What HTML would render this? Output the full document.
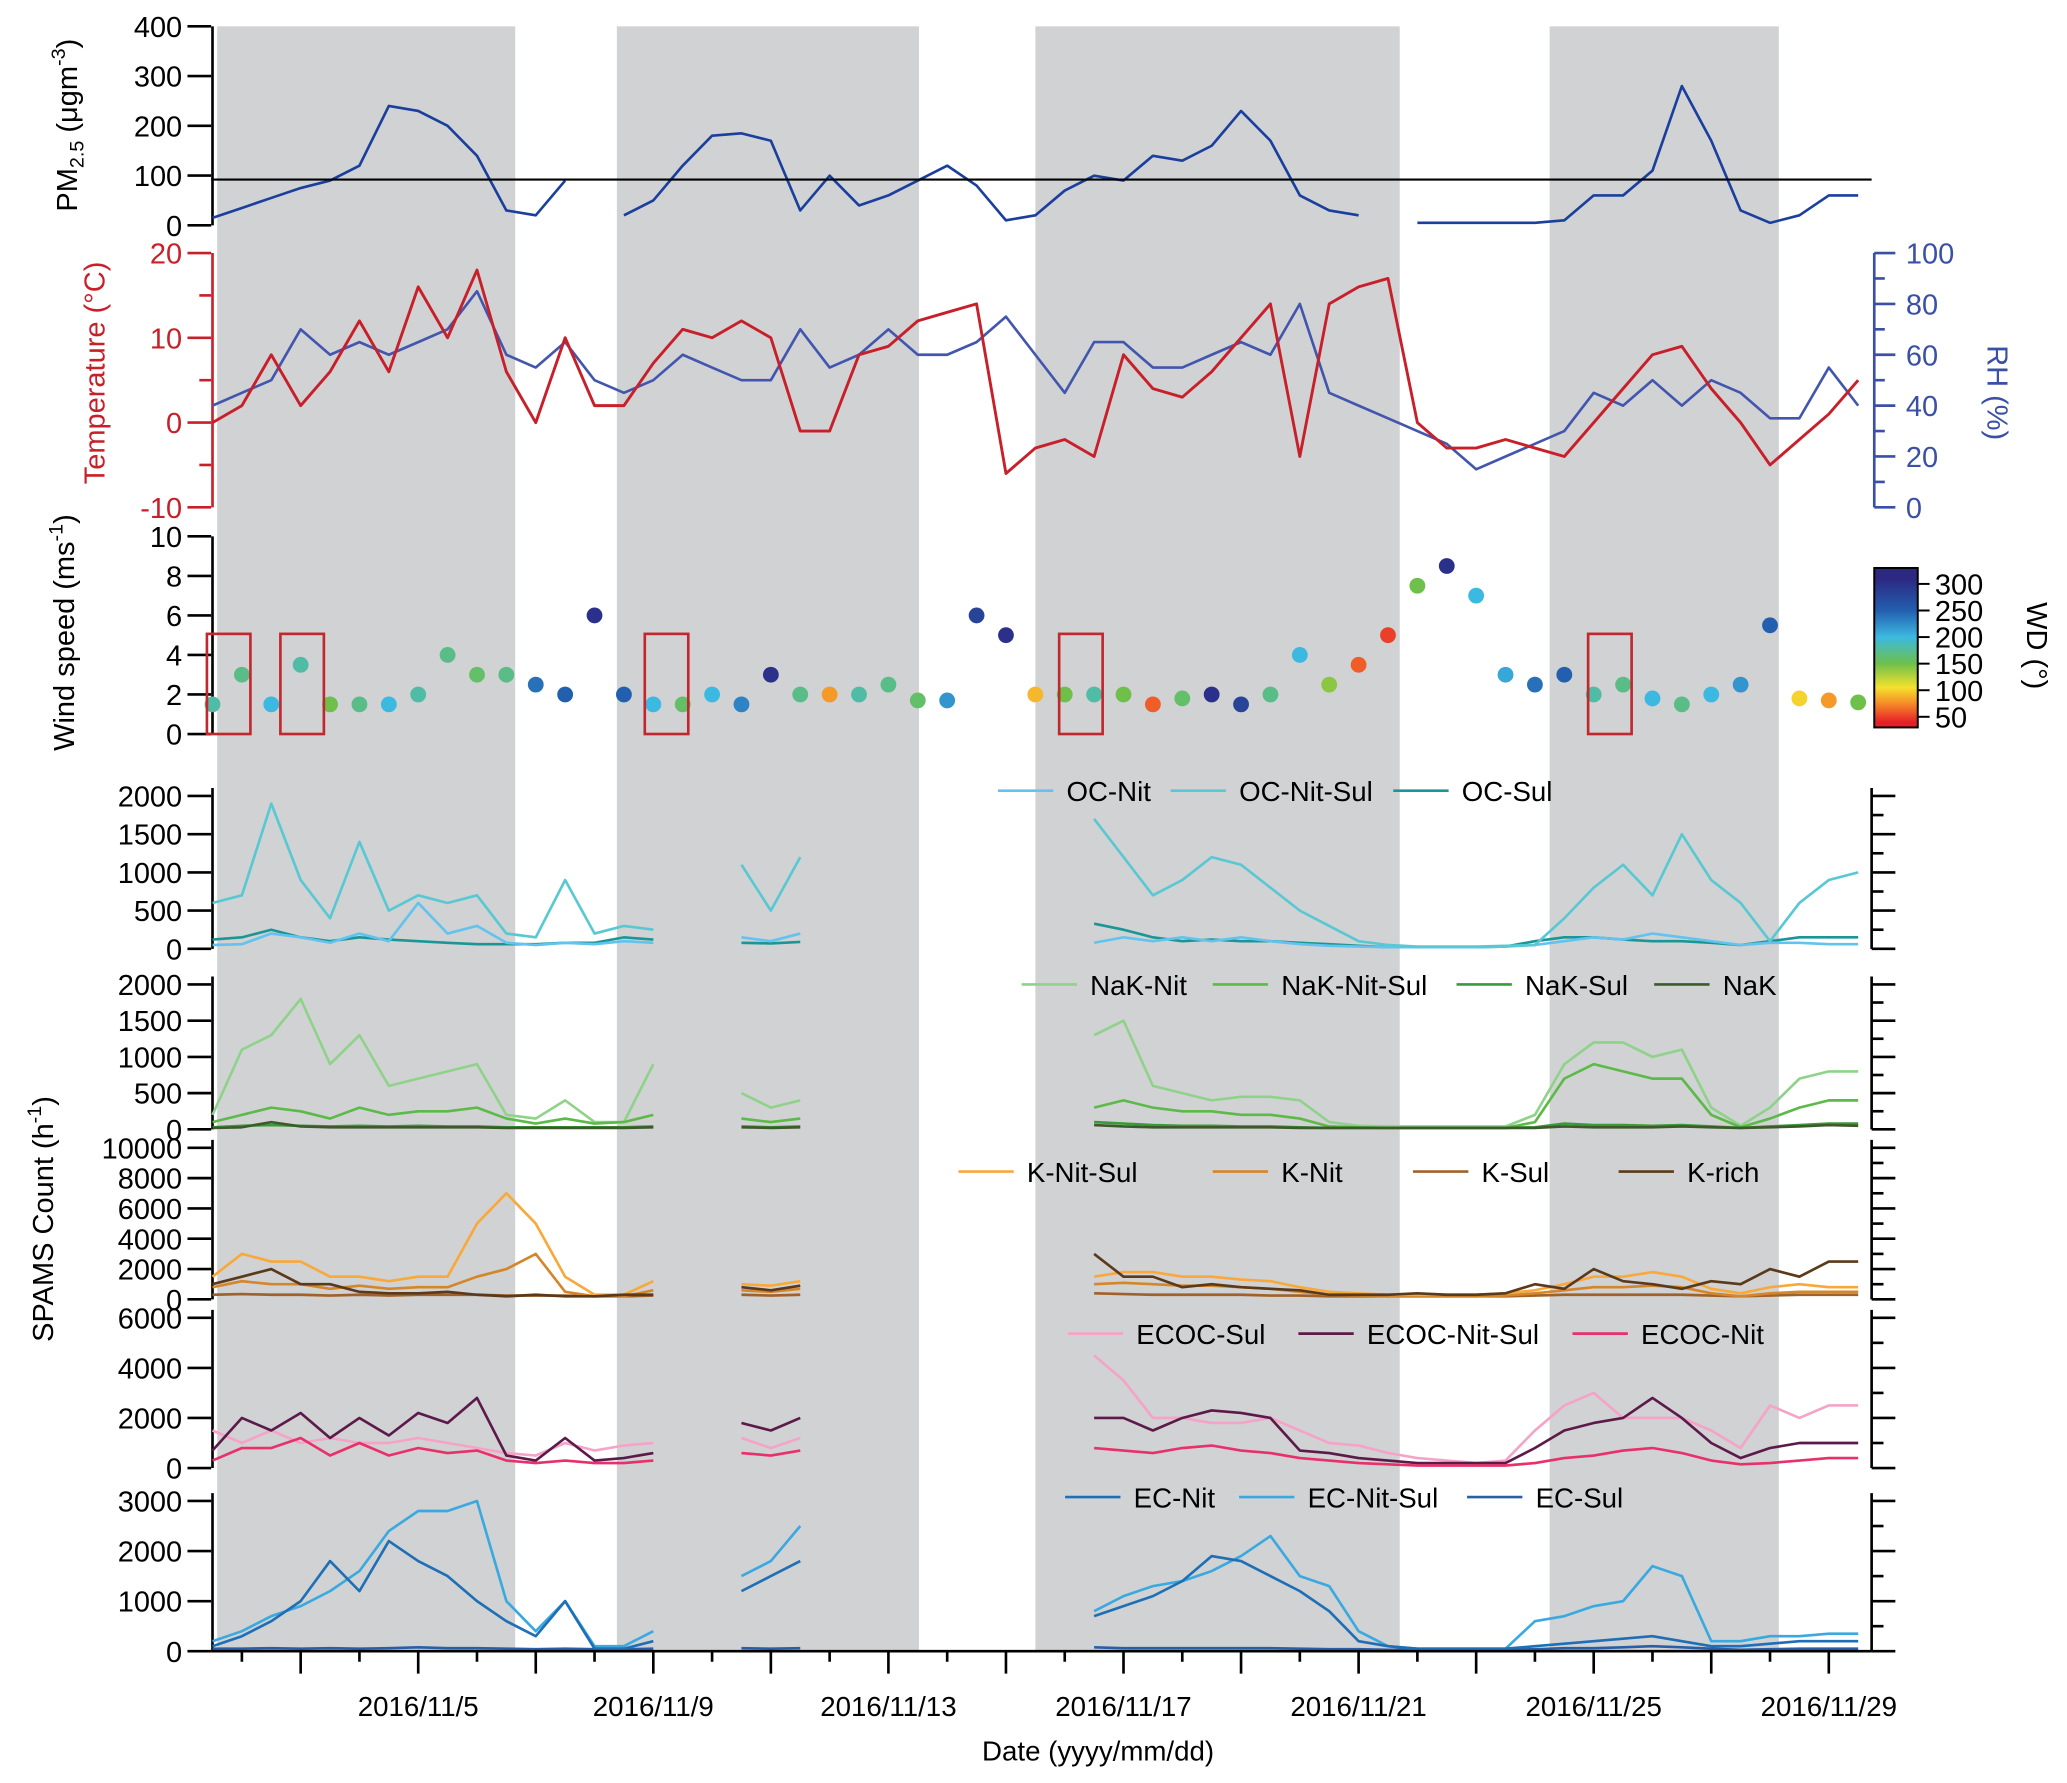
<!DOCTYPE html>
<html><head><meta charset="utf-8"><style>
html,body{margin:0;padding:0;background:#fff}
svg{display:block;font-family:"Liberation Sans",Arial,sans-serif}
</style></head><body>
<svg id="chart" xmlns="http://www.w3.org/2000/svg" width="2067" height="1783" viewBox="0 0 1568 1353">
<g id="shade"></g>
<g id="plot"></g>
</svg>
<script>
// ---------- data ----------
const shadeStarts = [1.58, 8.38, 15.5, 24.25];
const shadeEnds   = [6.65, 13.52, 21.7, 28.15];
const gridTimes = [1.5,2,2.5,3,3.5,4,4.5,5,5.5,6,6.5,7,7.5,8,8.5,9,9.5,10,10.5,11,11.5,12,12.5,13,13.5,14,14.5,15,15.5,16,16.5,17,17.5,18,18.5,19,19.5,20,20.5,21,21.5,22,22.5,23,23.5,24,24.5,25,25.5,26,26.5,27,27.5,28,28.5,29,29.5];
const pm25 = [15,35,55,75,90,120,240,230,200,140,30,20,90,null,20,50,120,180,185,170,30,100,40,60,90,120,80,10,20,70,100,90,140,130,160,230,170,60,30,20,null,5,5,5,5,5,10,60,60,110,280,170,30,5,20,60,60];
const pmThreshold = 92;
const temperature = [0,2,8,2,6,12,6,16,10,18,6,0,10,2,2,7,11,10,12,10,-1,-1,8,9,12,13,14,-6,-3,-2,-4,8,4,3,6,10,14,-4,14,16,17,0,-3,-3,-2,-3,-4,0,4,8,9,4,0,-5,-2,1,5];
const rh = [40,45,50,70,60,65,60,65,70,85,60,55,65,50,45,50,60,55,50,50,70,55,60,70,60,60,65,75,60,45,65,65,55,55,60,65,60,80,45,40,35,30,25,15,20,25,30,45,40,50,40,50,45,35,35,55,40];
const windSpeed = [1.5,3,1.5,3.5,1.5,1.5,1.5,2,4,3,3,2.5,2,6,2,1.5,1.5,2,1.5,3,2,2,2,2.5,1.7,1.7,6,5,2,2,2,2,1.5,1.8,2,1.5,2,4,2.5,3.5,5,7.5,8.5,7,3,2.5,3,2,2.5,1.8,1.5,2,2.5,5.5,1.8,1.7,1.6];
const windDir = [180,170,200,180,150,170,200,180,170,160,170,240,250,300,250,200,160,200,230,300,170,80,180,170,160,220,280,300,90,150,180,150,60,160,300,280,170,200,140,60,50,150,300,200,210,240,250,180,170,200,170,200,220,250,100,80,150];
const highlightBoxes = [1.45, 2.7, 8.9, 15.95, 24.95];

const spamsTimes = [1.5,2,2.5,3,3.5,4,4.5,5,5.5,6,6.5,7,7.5,8,8.5,9, 10.5,11,11.5, 16.5,17,17.5,18,18.5,19,19.5,20,20.5,21,21.5,22,22.5,23,23.5,24,24.5,25,25.5,26,26.5,27,27.5,28,28.5,29,29.5];
const ocNit    = [50,60,200,150,80,200,100,600,200,300,80,50,80,60,100,80, 150,100,200, 80,150,100,150,100,150,100,60,40,30,20,20,20,20,30,50,100,150,120,200,150,100,50,80,80,60,60];
const ocNitSul = [600,700,1900,900,400,1400,500,700,600,700,200,150,900,200,300,250, 1100,500,1200, 1700,1200,700,900,1200,1100,800,500,300,100,50,30,30,30,40,50,400,800,1100,700,1500,900,600,100,600,900,1000];
const ocSul    = [120,150,250,150,100,150,120,100,80,60,60,60,80,80,150,120, 80,70,90, 330,250,150,100,120,100,100,80,60,40,20,20,20,20,30,100,150,150,120,100,100,80,50,100,150,150,150];
const nakNit    = [200,1100,1300,1800,900,1300,600,700,800,900,200,150,400,100,100,900, 500,300,400, 1300,1500,600,500,400,450,450,400,100,50,40,40,40,40,40,200,900,1200,1200,1000,1100,300,50,300,700,800,800];
const nakNitSul = [100,200,300,250,150,300,200,250,250,300,150,80,150,80,100,200, 150,100,150, 300,400,300,250,250,200,200,150,40,30,20,20,20,20,20,100,700,900,800,700,700,200,30,150,300,400,400];
const nakSul    = [30,50,60,50,40,50,40,50,40,40,30,30,30,30,30,40, 40,30,40, 100,80,60,50,50,40,40,30,20,20,20,20,20,20,20,30,80,60,60,50,60,40,20,40,60,80,80];
const nak       = [20,30,100,40,30,30,30,30,30,30,20,20,20,20,20,30, 30,20,30, 60,40,30,30,30,30,30,20,20,20,20,20,20,20,20,20,40,30,30,30,40,30,20,30,40,60,50];
const kNitSul = [1500,3000,2500,2500,1500,1500,1200,1500,1500,5000,7000,5000,1500,300,300,1200, 1000,900,1200, 1500,1800,1800,1500,1500,1300,1200,800,500,400,300,300,300,300,400,600,1000,1500,1500,1800,1500,700,400,800,1000,800,800];
const kNit    = [800,1200,1000,1000,700,900,700,800,800,1500,2000,3000,500,200,200,600, 600,500,700, 1000,1100,1000,900,900,800,700,500,300,250,200,200,200,200,250,400,600,800,800,900,800,400,200,400,500,500,500];
const kSul    = [300,350,300,300,250,300,250,300,300,300,250,250,250,200,200,250, 300,250,300, 400,350,300,300,300,300,250,250,200,200,200,200,200,200,200,250,300,300,300,300,300,250,200,250,300,300,300];
const kRich   = [1000,1500,2000,1000,1000,500,400,400,500,300,200,300,200,200,300,300, 800,600,900, 3000,1500,1500,800,1000,800,700,600,300,300,300,400,300,300,400,1000,700,2000,1200,1000,700,1200,1000,2000,1500,2500,2500];
const ecocSul    = [1500,1000,1500,1000,1200,1000,1000,1200,1000,800,600,500,1000,700,900,1000, 1200,800,1200, 4500,3500,2000,2000,1800,1800,2000,1500,1000,900,600,400,300,200,300,1500,2500,3000,2000,2000,2000,1500,800,2500,2000,2500,2500];
const ecocNitSul = [700,2000,1500,2200,1200,2000,1300,2200,1800,2800,500,300,1200,300,400,600, 1800,1500,2000, 2000,2000,1500,2000,2300,2200,2000,700,600,400,300,200,200,200,200,800,1500,1800,2000,2800,2000,1000,400,800,1000,1000,1000];
const ecocNit    = [300,800,800,1200,500,1000,500,800,600,700,300,200,300,200,200,300, 600,500,700, 800,700,600,800,900,700,600,400,300,200,150,100,100,100,100,200,400,500,700,800,600,300,150,200,300,400,400];
const ecNit    = [100,300,600,1000,1800,1200,2200,1800,1500,1000,600,300,1000,50,50,200, 1200,1500,1800, 700,900,1100,1400,1900,1800,1500,1200,800,200,100,50,50,50,50,100,150,200,250,300,200,100,100,150,200,200,200];
const ecNitSul = [200,400,700,900,1200,1600,2400,2800,2800,3000,1000,400,1000,100,100,400, 1500,1800,2500, 800,1100,1300,1400,1600,1900,2300,1500,1300,400,100,50,50,50,50,600,700,900,1000,1700,1500,200,200,300,300,350,350];
const ecSul    = [50,50,60,50,60,50,60,80,60,60,50,40,50,40,40,50, 60,50,60, 80,60,60,60,60,60,60,50,40,40,30,30,30,30,30,40,60,60,80,100,80,50,30,40,50,50,50];
const dateTicks = [5,9,13,17,21,25,29];
const dateLabels = ["2016/11/5","2016/11/9","2016/11/13","2016/11/17","2016/11/21","2016/11/25","2016/11/29"];

// ---------- helpers ----------
const NS="http://www.w3.org/2000/svg";
const plot=document.getElementById('plot');
const shadeG=document.getElementById('shade');
function el(tag,attrs,parent){const e=document.createElementNS(NS,tag);for(const k in attrs)e.setAttribute(k,attrs[k]);(parent||plot).appendChild(e);return e;}
const X0=160,X1=1420;
function xT(t){return 138.7+(t-1)*44.6;}
function yS(v,vmin,vmax,ytop,ybot){return ybot-(v-vmin)/(vmax-vmin)*(ybot-ytop);}
function txt(s,x,y,size,anchor,fill,name){const e=el('text',{x:x,y:y,'font-size':size,'text-anchor':anchor||'start',fill:fill||'#000'});e.textContent=s;


return e;}
function linePath(times,vals,f,gapMax){let d='';let pen=false;let prevT=null;
for(let i=0;i<vals.length&&i<times.length;i++){const v=vals[i];
if(v===null||v===undefined){pen=false;prevT=null;continue;}
if(prevT!==null&&times[i]-prevT>gapMax)pen=false;
d+=(pen?'L':'M')+xT(times[i]).toFixed(1)+','+f(v).toFixed(1);pen=true;prevT=times[i];}
return d;}
function series(times,vals,f,color,name,w){const p=el('path',{d:linePath(times,vals,f,0.8),fill:'none',stroke:color,'stroke-width':w||2,'stroke-linejoin':'round'});


return p;}
function leftAxis(ticks,f,ytop,ybot,color,minor,name){const g=el('g',{});


el('line',{x1:X0+1,y1:ytop,x2:X0+1,y2:ybot,stroke:color,'stroke-width':2},g);
ticks.forEach(v=>{const y=f(v);el('line',{x1:X0-18,y1:y,x2:X0,y2:y,stroke:color,'stroke-width':2},g);
const t=txt(String(v),X0-22,y+8,22,'end',color,'tick-label');g.appendChild(t);});
(minor||[]).forEach(v=>{const y=f(v);el('line',{x1:X0-9,y1:y,x2:X0,y2:y,stroke:color,'stroke-width':2},g);});
return g;}
function rightAxis(ticks,f,ytop,ybot,minor){const g=el('g',{});


el('line',{x1:X1,y1:ytop,x2:X1,y2:ybot,stroke:'#000','stroke-width':2},g);
ticks.forEach(v=>{const y=f(v);el('line',{x1:X1,y1:y,x2:X1+18,y2:y,stroke:'#000','stroke-width':2},g);});
minor.forEach(v=>{const y=f(v);el('line',{x1:X1,y1:y,x2:X1+9,y2:y,stroke:'#000','stroke-width':2},g);});}
function legend(items,y){items.forEach(it=>{const g=el('g',{});


el('line',{x1:it[2],y1:y,x2:it[2]+42,y2:y,stroke:it[1],'stroke-width':2},g);
g.appendChild(txt(it[0],it[2]+52,y+8,21,'start','#000','legend-label'));});}

// ---------- shading ----------
shadeStarts.forEach((s,i)=>{const r=el('rect',{x:xT(s),y:20,width:xT(shadeEnds[i])-xT(s),height:1233,fill:'#d1d2d4'},shadeG);

});

// ---------- PM2.5 ----------
const fPM=v=>yS(v,0,400,20,171);
leftAxis([0,100,200,300,400],fPM,20,171,'#000',[],'pm25-y-axis');
series(gridTimes,pm25,fPM,'#1a3f9c','pm25-line',2);
const th=el('line',{x1:X0,y1:fPM(pmThreshold),x2:X1,y2:fPM(pmThreshold),stroke:'#000','stroke-width':1.6});


const pmT=el('text',{transform:'translate(58,95) rotate(-90)','font-size':22,'text-anchor':'middle'});
pmT.innerHTML='PM<tspan font-size="15" dy="5">2.5</tspan><tspan dy="-5"> (μgm</tspan><tspan font-size="15" dy="-9">-3</tspan><tspan dy="9">)</tspan>';



// ---------- Temp / RH ----------
const fT=v=>yS(v,-10,20,192,385);
const fRH=v=>yS(v,0,100,192,385);
leftAxis([-10,0,10,20],fT,192,385,'#c8202a',[-5,5,15],'temperature-y-axis');
(function(){const g=el('g',{});


el('line',{x1:X1+2,y1:192,x2:X1+2,y2:385,stroke:'#3a4fa6','stroke-width':2},g);
[0,20,40,60,80,100].forEach(v=>{const y=fRH(v);el('line',{x1:X1+2,y1:y,x2:X1+18,y2:y,stroke:'#3a4fa6','stroke-width':2},g);
g.appendChild(txt(String(v),X1+26,y+8,22,'start','#3a4fa6','tick-label'));});
[10,30,50,70,90].forEach(v=>{const y=fRH(v);el('line',{x1:X1+2,y1:y,x2:X1+10,y2:y,stroke:'#3a4fa6','stroke-width':2},g);});})();
series(gridTimes,rh,fRH,'#4256ae','rh-line',2);
series(gridTimes,temperature,fT,'#c8202a','temperature-line',2.2);
const tT=txt('Temperature (°C)',0,0,22,'middle','#c8202a','temperature-y-axis-title');tT.setAttribute('transform','translate(79,283) rotate(-90)');
const rT=txt('RH (%)',0,0,22,'middle','#3a4fa6','rh-y-axis-title');rT.setAttribute('transform','translate(1508,298) rotate(90)');

// ---------- Wind ----------
const fW=v=>yS(v,0,10,407,557);
leftAxis([0,2,4,6,8,10],fW,407,557,'#000',[],'wind-y-axis');
const cStops=[[40,[230,32,40]],[75,[245,140,40]],[105,[245,225,45]],[150,[110,192,75]],[200,[60,185,225]],[250,[35,95,175]],[310,[45,40,130]]];
function wdColor(w){if(w<=cStops[0][0])return 'rgb('+cStops[0][1]+')';for(let i=1;i<cStops.length;i++){if(w<=cStops[i][0]){const a=cStops[i-1],b=cStops[i];const f=(w-a[0])/(b[0]-a[0]);return 'rgb('+a[1].map((c,j)=>Math.round(c+(b[1][j]-c)*f)).join(',')+')';}}return 'rgb('+cStops[cStops.length-1][1]+')';}
windSpeed.forEach((s,i)=>{const c=el('circle',{cx:xT(gridTimes[i]),cy:fW(s),r:6,fill:wdColor(windDir[i])});

});
highlightBoxes.forEach(t=>{const r=el('rect',{x:xT(t)-2,y:481,width:33,height:76,fill:'none',stroke:'#c0282e','stroke-width':2});

});
const wT=el('text',{transform:'translate(56,480) rotate(-90)','font-size':22,'text-anchor':'middle'});
wT.innerHTML='Wind speed (ms<tspan font-size="15" dy="-9">-1</tspan><tspan dy="9">)</tspan>';


// colorbar
(function(){const defs=el('defs',{});const lg=el('linearGradient',{id:'wdg',x1:0,y1:1,x2:0,y2:0},defs);
const fC=w=>(w-30)/(330-30);
cStops.forEach(s=>el('stop',{offset:Math.max(0,Math.min(1,fC(s[0]))),'stop-color':'rgb('+s[1]+')'},lg));
const g=el('g',{});


el('rect',{x:1422,y:431,width:33,height:121,fill:'url(#wdg)',stroke:'#000','stroke-width':1.5},g);
const fY=w=>552-(w-30)/(330-30)*121;
[50,100,150,200,250,300].forEach(w=>{el('line',{x1:1455,y1:fY(w),x2:1464,y2:fY(w),stroke:'#000','stroke-width':1.5},g);
g.appendChild(txt(String(w),1468,fY(w)+8,22,'start','#000','colorbar-tick-label'));});
const cbT=txt('WD (°)',0,0,22,'middle','#000','colorbar-title');cbT.setAttribute('transform','translate(1538,490) rotate(90)');})();

// ---------- SPAMS panels ----------
function panel(ytop,ybot,vmax,ticks,minorStep,name){const f=v=>yS(v,0,vmax,ytop,ybot);
leftAxis(ticks,f,ytop-6,ybot,'#000',[],name+'-y-axis');
const mj=[],mn=[];for(let v=0;v<=vmax+1e-6;v+=minorStep){if(ticks.includes(v))mj.push(v);else mn.push(v);}
rightAxis(mj,f,ytop-6,ybot,mn);return f;}
const fOC=panel(604,720,2000,[0,500,1000,1500,2000],250,'oc');
series(spamsTimes,ocSul,fOC,'#1b9696','oc-sul-line');
series(spamsTimes,ocNit,fOC,'#62c3ee','oc-nit-line');
series(spamsTimes,ocNitSul,fOC,'#58c8d2','oc-nit-sul-line');
legend([['OC-Nit','#62c3ee',757],['OC-Nit-Sul','#58c8d2',888],['OC-Sul','#1b9696',1057]],600);

const fNa=panel(747,857,2000,[0,500,1000,1500,2000],250,'nak');
series(spamsTimes,nakNit,fNa,'#8fd28a','nak-nit-line');
series(spamsTimes,nakNitSul,fNa,'#5cba48','nak-nit-sul-line');
series(spamsTimes,nakSul,fNa,'#3a9a3a','nak-sul-line');
series(spamsTimes,nak,fNa,'#3d5a2a','nak-line');
legend([['NaK-Nit','#8fd28a',775],['NaK-Nit-Sul','#5cba48',920],['NaK-Sul','#3a9a3a',1105],['NaK','#3d5a2a',1255]],747);

const fK=panel(871,986,10000,[0,2000,4000,6000,8000,10000],1000,'k');
series(spamsTimes,kSul,fK,'#a0622a','k-sul-line');
series(spamsTimes,kNit,fK,'#d4862a','k-nit-line');
series(spamsTimes,kNitSul,fK,'#f9a83a','k-nit-sul-line');
series(spamsTimes,kRich,fK,'#5a3a1a','k-rich-line');
legend([['K-Nit-Sul','#f9a83a',727],['K-Nit','#d4862a',920],['K-Sul','#a0622a',1072],['K-rich','#5a3a1a',1228]],889);

const fE=panel(1000,1114,6000,[0,2000,4000,6000],1000,'ecoc');
series(spamsTimes,ecocSul,fE,'#f5a3c7','ecoc-sul-line');
series(spamsTimes,ecocNitSul,fE,'#5c1a4a','ecoc-nit-sul-line');
series(spamsTimes,ecocNit,fE,'#e8306a','ecoc-nit-line');
legend([['ECOC-Sul','#f5a3c7',810],['ECOC-Nit-Sul','#5c1a4a',985],['ECOC-Nit','#e8306a',1193]],1012);

const fEC=panel(1139,1253,3000,[0,1000,2000,3000],500,'ec');
series(spamsTimes,ecSul,fEC,'#2a5fa8','ec-sul-line');
series(spamsTimes,ecNitSul,fEC,'#3aa9e0','ec-nit-sul-line');
series(spamsTimes,ecNit,fEC,'#1e6fb5','ec-nit-line');
legend([['EC-Nit','#1e6fb5',808],['EC-Nit-Sul','#3aa9e0',940],['EC-Sul','#2a5fa8',1113]],1136);

const sT=el('text',{transform:'translate(40,925) rotate(-90)','font-size':22,'text-anchor':'middle'});
sT.innerHTML='SPAMS Count (h<tspan font-size="15" dy="-9">-1</tspan><tspan dy="9">)</tspan>';



// ---------- x axis ----------
(function(){const g=el('g',{});


el('line',{x1:X0,y1:1253,x2:X1,y2:1253,stroke:'#000','stroke-width':2},g);
for(let t=3;t<=29;t+=2){el('line',{x1:xT(t),y1:1253,x2:xT(t),y2:1270,stroke:'#000','stroke-width':2},g);}
for(let t=2;t<=29;t+=2){el('line',{x1:xT(t),y1:1253,x2:xT(t),y2:1261,stroke:'#000','stroke-width':2},g);}
dateTicks.forEach((t,i)=>g.appendChild(txt(dateLabels[i],xT(t),1302,21,'middle','#000','x-tick-label')));})();
txt('Date (yyyy/mm/dd)',833,1336,21,'middle','#000','x-axis-title');
</script>
</body></html>
